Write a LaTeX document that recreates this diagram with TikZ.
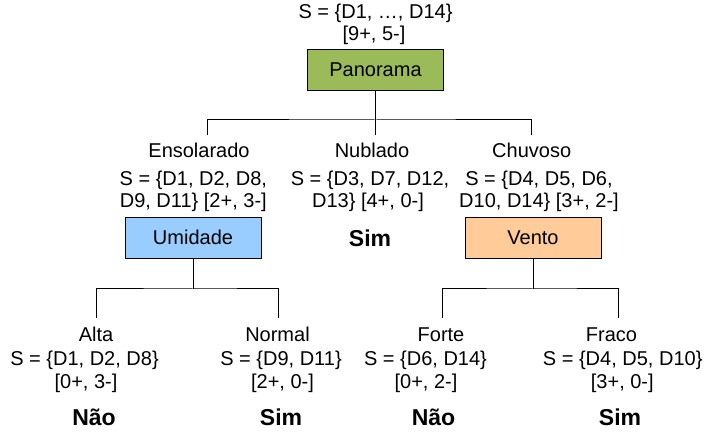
\documentclass[tikz,border=0pt]{standalone}
\usepackage{fontspec}
\setmainfont{Liberation Sans}
\definecolor{pgreen}{RGB}{155,187,89}
\definecolor{pblue}{RGB}{153,204,255}
\definecolor{porange}{RGB}{255,204,153}
\tikzset{
  lbl/.style={anchor=base, inner sep=0pt, font=\fontsize{20}{23}\selectfont},
  leaf/.style={anchor=base, inner sep=0pt, font=\fontsize{23}{27}\selectfont\bfseries},
  attr/.style={draw=black, line width=1pt, minimum width=136pt, minimum height=41pt, inner sep=0pt, font=\fontsize{20}{23}\selectfont},
  edge/.style={draw=black, line width=1pt}
}
\begin{document}
\begin{tikzpicture}[x=1pt,y=-1pt]
\useasboundingbox (0,0) rectangle (716,435);
% root
\node[lbl] (rs) at (375.5,18.5) {S = \{D1, …, D14\}};
\node[lbl] (rc) at (374,40.5) {[9+, 5-]};
\node[attr, fill=pgreen] (pan) at (375.5,69.7) {Panorama};
\coordinate (j0) at (375.5,120);
\coordinate (e1) at (207,135);
\coordinate (e2) at (375.5,135);
\coordinate (e3) at (531.5,135);
\draw[edge] (pan.south) -- (j0);
\draw[edge] (e1) |- (j0) -| (e3);
\draw[edge] (j0) -- (e2);
% Ensolarado
\node[lbl] (ens) at (199,158) {Ensolarado};
\node[lbl] (ens1) at (193.3,186) {S = \{D1, D2, D8,};
\node[lbl] (ens2) at (193.3,208) {D9, D11\} [2+, 3-]};
\node[attr, fill=pblue] (umi) at (193,237.8) {Umidade};
% Nublado
\node[lbl] (nub) at (372,158) {Nublado};
\node[lbl] (nub1) at (370,186) {S = \{D3, D7, D12,};
\node[lbl] (nub2) at (368,208) {D13\} [4+, 0-]};
\node[leaf] (nubl) at (370,246.5) {Sim};
% Chuvoso
\node[lbl] (chu) at (531.7,158) {Chuvoso};
\node[lbl] (chu1) at (539,186) {S = \{D4, D5, D6,};
\node[lbl] (chu2) at (539,208) {D10, D14\} [3+, 2-]};
\node[attr, fill=porange] (ven) at (533,237.8) {Vento};
% Umidade branches
\coordinate (j1) at (193,289);
\coordinate (u1) at (96,318);
\coordinate (u2) at (278.3,318);
\draw[edge] (umi.south) -- (j1);
\draw[edge] (u1) |- (j1) -| (u2);
% Vento branches
\coordinate (j2) at (533,289);
\coordinate (v1) at (442.7,318);
\coordinate (v2) at (618.3,318);
\draw[edge] (ven.south) -- (j2);
\draw[edge] (v1) |- (j2) -| (v2);
% Alta
\node[lbl] (alt) at (96,342) {Alta};
\node[lbl] (alt1) at (84.5,365.5) {S = \{D1, D2, D8\}};
\node[lbl] (alt2) at (86,388.5) {[0+, 3-]};
\node[leaf] (altl) at (94,426) {Não};
% Normal
\node[lbl] (nor) at (277.5,342) {Normal};
\node[lbl] (nor1) at (281,365.5) {S = \{D9, D11\}};
\node[lbl] (nor2) at (282.5,388.5) {[2+, 0-]};
\node[leaf] (norl) at (281,426) {Sim};
% Forte
\node[lbl] (for) at (441,342) {Forte};
\node[lbl] (for1) at (425.5,365.5) {S = \{D6, D14\}};
\node[lbl] (for2) at (426,388.5) {[0+, 2-]};
\node[leaf] (forl) at (433.5,426) {Não};
% Fraco
\node[lbl] (fra) at (611.5,342) {Fraco};
\node[lbl] (fra1) at (622.7,365.5) {S = \{D4, D5, D10\}};
\node[lbl] (fra2) at (622.3,388.5) {[3+, 0-]};
\node[leaf] (fral) at (620,426) {Sim};
\end{tikzpicture}
\end{document}
